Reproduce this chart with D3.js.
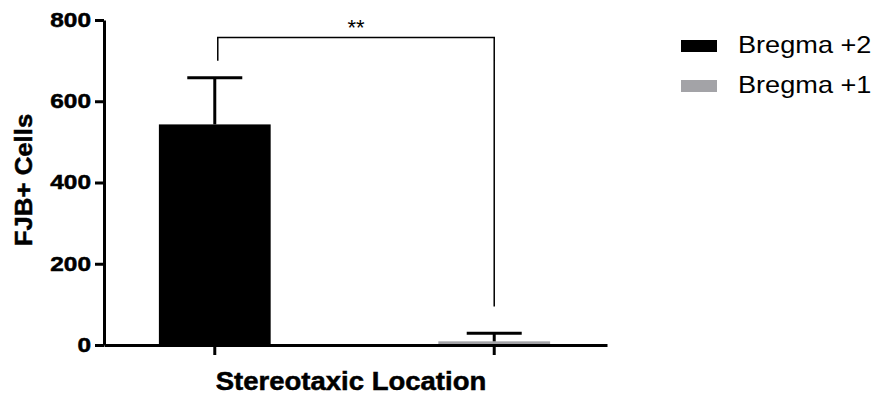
<!DOCTYPE html>
<html>
<head>
  <script src="https://d3js.org/d3.v7.min.js"></script>
  <style>
    body { margin: 0; background: #fff; }
    svg { font-family: "Liberation Sans", Arial, sans-serif; }
    .axis path, .axis line { stroke: #000; stroke-width: 3px; }
    .axis text { fill: #000; font-size: 20px; font-weight: bold; stroke: #000; stroke-width: 0.5px; }
    .title { font-weight: bold; stroke: #000; stroke-width: 0.5px; }
  </style>
</head>
<body>
  <svg class="chart" width="881" height="395"></svg>
  <script>
    var categories = ['Bregma +2', 'Bregma +1'];
    var means = [543, 9];
    var errors = [115, 20];
    var colors = ['#000000', '#a3a3a7'];
    var yTicks = [0, 200, 400, 600, 800];
    var sigLabel = '**';

    var margin = { top: 20, left: 104, right: 274, bottom: 50 };
    var width = 881 - margin.left - margin.right;
    var height = 395 - margin.top - margin.bottom;

    var svg = d3.select('.chart');
    var g = svg.append('g')
      .attr('transform', 'translate(' + margin.left + ',' + margin.top + ')');

    var xScale = d3.scaleBand()
      .domain(categories)
      .range([0, width])
      .paddingInner(0.6)
      .paddingOuter(0.2);
    var yScale = d3.scaleLinear()
      .domain([0, 800])
      .range([height, 0]);

    // stretch text horizontally, the source figure has wide lettering
    function stretch(sel, k) {
      sel.each(function () {
        var len = this.getComputedTextLength();
        d3.select(this).attr('textLength', len * k).attr('lengthAdjust', 'spacingAndGlyphs');
      });
    }

    // bars
    g.selectAll('rect.bar')
      .data(categories)
      .enter()
      .append('rect')
      .attr('class', 'bar')
      .attr('x', function (d) { return xScale(d) - 1; })
      .attr('width', xScale.bandwidth())
      .attr('y', function (d, i) { return yScale(means[i]); })
      .attr('height', function (d, i) { return height - yScale(means[i]); })
      .attr('fill', function (d, i) { return colors[i]; });

    // error bars (upper only)
    var capW = 55;
    var err = g.selectAll('g.err')
      .data(categories)
      .enter()
      .append('g')
      .attr('class', 'err')
      .attr('transform', function (d) {
        return 'translate(' + (xScale(d) + xScale.bandwidth() / 2 - 1) + ',0)';
      });
    err.append('line')
      .attr('y1', function (d, i) { return yScale(means[i]); })
      .attr('y2', function (d, i) { return yScale(means[i] + errors[i]); })
      .attr('stroke', '#000')
      .attr('stroke-width', 3);
    err.append('line')
      .attr('x1', -capW / 2)
      .attr('x2', capW / 2)
      .attr('y1', function (d, i) { return yScale(means[i] + errors[i]); })
      .attr('y2', function (d, i) { return yScale(means[i] + errors[i]); })
      .attr('stroke', '#000')
      .attr('stroke-width', 3);

    // axes
    var yAxis = g.append('g')
      .attr('class', 'axis')
      .call(d3.axisLeft(yScale).tickValues(yTicks).tickSize(9).tickPadding(4).tickSizeOuter(0));
    stretch(yAxis.selectAll('text'), 1.22);

    var xAxis = g.append('g')
      .attr('class', 'axis')
      .attr('transform', 'translate(0,' + height + ')')
      .call(d3.axisBottom(xScale).tickSize(10).tickSizeOuter(0).tickFormat(''));
    xAxis.selectAll('.tick').attr('transform', function (d) {
      return 'translate(' + (xScale(d) + xScale.bandwidth() / 2 - 1) + ',0)';
    });

    // significance bracket
    var x1 = xScale(categories[0]) + xScale.bandwidth() / 2 + 2;
    var x2 = xScale(categories[1]) + xScale.bandwidth() / 2 - 1;
    var yTop = yScale(757);
    g.append('path')
      .attr('d', 'M' + x1 + ',' + yScale(700) + 'V' + yTop + 'H' + x2 + 'V' + yScale(95))
      .attr('fill', 'none')
      .attr('stroke', '#000')
      .attr('stroke-width', 1.5);
    g.append('text')
      .attr('x', (x1 + x2) / 2)
      .attr('y', yTop - 2)
      .attr('text-anchor', 'middle')
      .style('font-size', '22px')
      .text(sigLabel);

    // axis titles
    var xt = svg.append('text')
      .attr('class', 'title')
      .attr('x', 351)
      .attr('y', 390)
      .attr('text-anchor', 'middle')
      .style('font-size', '25px')
      .text('Stereotaxic Location');
    stretch(xt, 1.1);

    var yt = svg.append('text')
      .attr('class', 'title')
      .attr('transform', 'translate(32,180) rotate(-90)')
      .attr('text-anchor', 'middle')
      .style('font-size', '23px')
      .text('FJB+ Cells');
    stretch(yt, 1.12);

    // legend
    var legend = svg.selectAll('g.legend')
      .data(categories)
      .enter()
      .append('g')
      .attr('class', 'legend')
      .attr('transform', function (d, i) { return 'translate(681,' + (40 + i * 40) + ')'; });
    legend.append('rect')
      .attr('width', 36)
      .attr('height', 12)
      .attr('fill', function (d, i) { return colors[i]; });
    var lt = legend.append('text')
      .attr('x', 57)
      .attr('y', 12.5)
      .style('font-size', '24px')
      .text(function (d) { return d; });
    stretch(lt, 1.13);
  </script>
</body>
</html>
